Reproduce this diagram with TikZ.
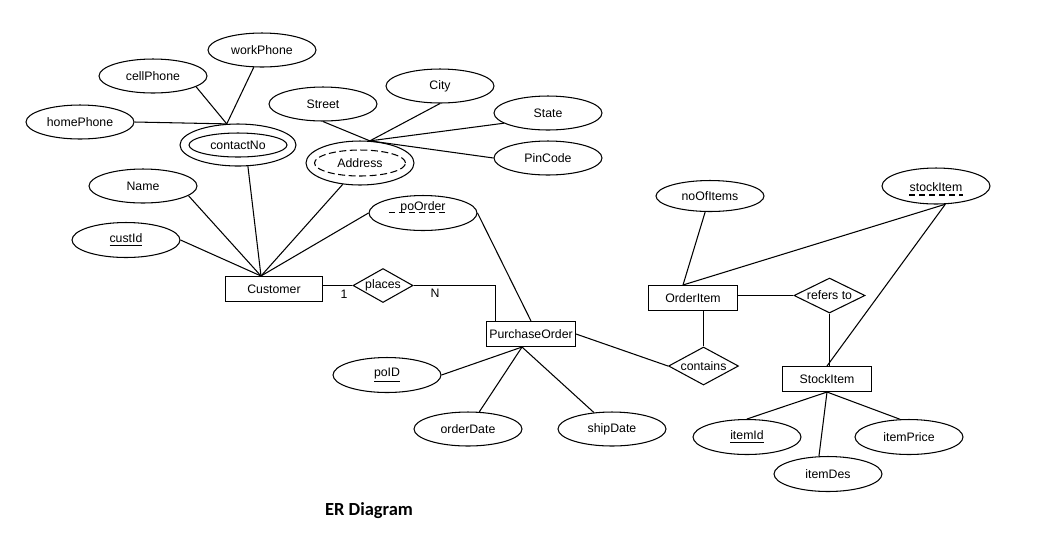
\documentclass[tikz,border=0pt]{standalone}
\usepackage{fontspec}
\setmainfont{Liberation Sans}
\newfontfamily\capfont{Carlito}
\usetikzlibrary{shapes.geometric}

\begin{document}
\begin{tikzpicture}[x=0.02cm,y=-0.02cm,line width=0.6pt,
	every node/.style={font=\fontsize{7}{8.4}\selectfont},
	attr/.style={ellipse,draw,inner sep=0pt,minimum width=2.16cm,minimum height=0.68cm},
	entity/.style={rectangle,draw,inner sep=1pt,minimum height=0.5cm},
	rel/.style={diamond,draw,inner sep=0pt},
	keytxt/.style={inner sep=0pt,anchor=base},
	partial/.style={dash pattern=on 3.4pt off 2.3pt}]
	\useasboundingbox (0,0) rectangle (1041,539);

	\node[attr] (workPhone) at (262,50) {workPhone};
	\node[attr] (cellPhone) at (153,76) {cellPhone};
	\node[attr] (homePhone) at (80,122) {homePhone};
	\node[attr,minimum width=2.32cm,minimum height=0.84cm] (contactNo) at (238,145) {};
	\node[attr,minimum width=1.96cm,minimum height=0.48cm] (contactNoIn) at (238,145) {contactNo};
	\node[attr] (Street) at (323,104) {Street};
	\node[attr] (City) at (440,86) {City};
	\node[attr] (State) at (548,113) {State};
	\node[attr] (PinCode) at (548,158) {PinCode};
	\node[attr,minimum height=0.88cm] (Address) at (360,163) {};
	\node[attr,dash pattern=on 4pt off 2pt,minimum width=1.82cm,minimum height=0.52cm] (AddressIn) at (360,163) {Address};
	\node[attr] (Name) at (143,186) {Name};
	\node[attr,minimum height=0.7cm] (custId) at (126,240) {\underline{custId}};
	\node[attr,minimum height=0.7cm] (poOrder) at (423,213) {};
	\node[keytxt] (poOrderTxt) at (423,210.5) {poOrder};
	\node[entity,minimum width=1.94cm] (Customer) at (274,289) {Customer};
	\node[rel,minimum width=1.2cm,minimum height=0.68cm,label=center:places] (places) at (383,285.5) {};
	\node (one) at (344,294) {1};
	\node (many) at (435,293) {N};
	\node[entity,minimum width=1.78cm] (PurchaseOrder) at (531,334) {PurchaseOrder};
	\node[attr,minimum height=0.7cm] (poID) at (387,375) {\underline{poID}};
	\node[attr] (orderDate) at (468,429) {orderDate};
	\node[attr] (shipDate) at (612,429) {shipDate};
	\node[rel,minimum width=1.4cm,minimum height=0.76cm,label=center:contains] (contains) at (703.5,366) {};
	\node[attr,minimum height=0.62cm] (noOfItems) at (710,196) {noOfItems};
	\node[attr,minimum height=0.72cm] (stockItem) at (936,186) {};
	\node[keytxt] (stockItemTxt) at (936,191) {stockItem};
	\node[entity,minimum width=1.78cm] (OrderItem) at (693,298) {OrderItem};
	\node[rel,minimum width=1.42cm,minimum height=0.7cm,label=center:refers to] (refers) at (829.5,295.5) {};
	\node[entity,minimum width=1.78cm] (StockItem) at (827,379) {StockItem};
	\node[attr,minimum height=0.7cm] (itemId) at (747,437) {\underline{itemId}};
	\node[attr,minimum height=0.7cm] (itemDes) at (828,474) {itemDes};
	\node[attr,minimum height=0.7cm] (itemPrice) at (909,437) {itemPrice};
	\node[font=\capfont\bfseries\fontsize{10.5}{12}\selectfont] (title) at (369,511) {ER Diagram};

	\coordinate (cust) at ([xshift=-0.26cm]Customer.north);
	\coordinate (po) at ([xshift=-0.18cm]PurchaseOrder.south);
	\coordinate (oi) at ([xshift=-0.2cm]OrderItem.north);
	\coordinate (sk) at (stockItem.-63);

	\draw (homePhone.east) -- (contactNo.118);
	\draw (cellPhone.-14) -- (contactNo.118);
	\draw (workPhone) -- (contactNo.118);
	\draw (Street.south) -- (Address.66);
	\draw (City.south) -- (Address.66);
	\draw (State.193) -- (Address.66);
	\draw (PinCode.west) -- (Address.66);
	\draw (Name.-12) -- (cust);
	\draw (custId.east) -- (cust);
	\draw (contactNo.-65) -- (cust);
	\draw (Address.-129) -- (cust);
	\draw (poOrder.west) -- (cust);
	\draw (poOrder.east) -- (PurchaseOrder.north);
	\draw (places.west -| Customer.east) -- (places.west);
	\draw (places.east) -| ([xshift=0.19cm]PurchaseOrder.north west);
	\draw (poID.east) -- (po);
	\draw (orderDate) -- (po);
	\draw (shipDate) -- (po);
	\draw (PurchaseOrder.east) -- (contains.west);
	\draw (contains.north) -- (contains.north |- OrderItem.south);
	\draw (noOfItems) -- (oi);
	\draw (sk) -- (oi);
	\draw (sk) -- (StockItem.north);
	\draw (refers.west -| OrderItem.east) -- (refers.west);
	\draw (refers.south) -- (refers.south |- StockItem.north);
	\draw (itemId.north) -- (StockItem.south);
	\draw (itemDes.117) -- (StockItem.south);
	\draw (itemPrice.117) -- (StockItem.south);
	\draw[partial] ([xshift=-0.22cm,yshift=-0.04cm]poOrderTxt.base west) -- ([yshift=-0.04cm]poOrderTxt.base east);
	\draw[partial] ([yshift=-0.08cm]stockItemTxt.base west) -- ([yshift=-0.08cm]stockItemTxt.base east);
\end{tikzpicture}
\end{document}
